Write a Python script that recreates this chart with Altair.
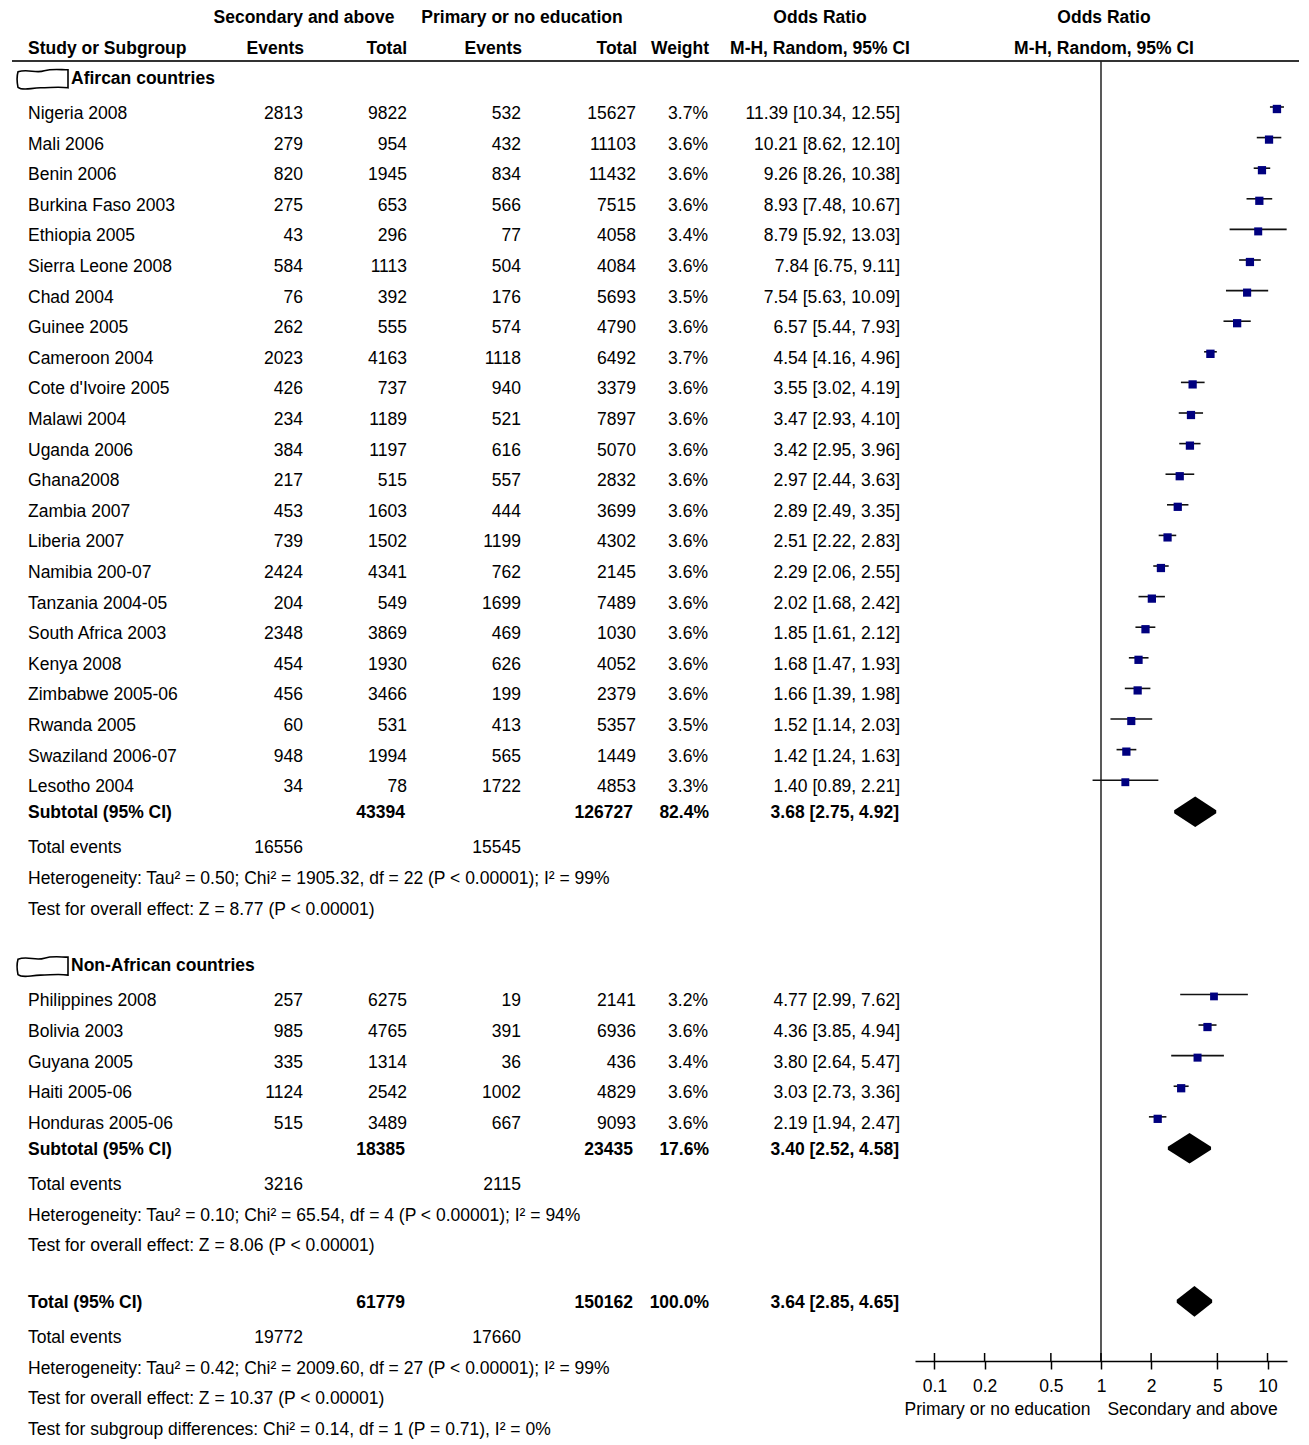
import altair as alt
import pandas as pd

# ---------------- data ----------------
af_names = ["Nigeria 2008", "Mali 2006", "Benin 2006", "Burkina Faso 2003", "Ethiopia 2005",
            "Sierra Leone 2008", "Chad 2004", "Guinee 2005", "Cameroon 2004", "Cote d'Ivoire 2005",
            "Malawi 2004", "Uganda 2006", "Ghana2008", "Zambia 2007", "Liberia 2007",
            "Namibia 200-07", "Tanzania 2004-05", "South Africa 2003", "Kenya 2008",
            "Zimbabwe 2005-06", "Rwanda 2005", "Swaziland 2006-07", "Lesotho 2004"]
af_sec_events = [2813, 279, 820, 275, 43, 584, 76, 262, 2023, 426, 234, 384, 217, 453, 739, 2424,
                 204, 2348, 454, 456, 60, 948, 34]
af_sec_total = [9822, 954, 1945, 653, 296, 1113, 392, 555, 4163, 737, 1189, 1197, 515, 1603, 1502,
                4341, 549, 3869, 1930, 3466, 531, 1994, 78]
af_pri_events = [532, 432, 834, 566, 77, 504, 176, 574, 1118, 940, 521, 616, 557, 444, 1199, 762,
                 1699, 469, 626, 199, 413, 565, 1722]
af_pri_total = [15627, 11103, 11432, 7515, 4058, 4084, 5693, 4790, 6492, 3379, 7897, 5070, 2832,
                3699, 4302, 2145, 7489, 1030, 4052, 2379, 5357, 1449, 4853]
af_weight = [3.7, 3.6, 3.6, 3.6, 3.4, 3.6, 3.5, 3.6, 3.7, 3.6, 3.6, 3.6, 3.6, 3.6, 3.6, 3.6, 3.6,
             3.6, 3.6, 3.6, 3.5, 3.6, 3.3]
af_or = [11.39, 10.21, 9.26, 8.93, 8.79, 7.84, 7.54, 6.57, 4.54, 3.55, 3.47, 3.42, 2.97, 2.89,
         2.51, 2.29, 2.02, 1.85, 1.68, 1.66, 1.52, 1.42, 1.40]
af_lo = [10.34, 8.62, 8.26, 7.48, 5.92, 6.75, 5.63, 5.44, 4.16, 3.02, 2.93, 2.95, 2.44, 2.49,
         2.22, 2.06, 1.68, 1.61, 1.47, 1.39, 1.14, 1.24, 0.89]
af_hi = [12.55, 12.10, 10.38, 10.67, 13.03, 9.11, 10.09, 7.93, 4.96, 4.19, 4.10, 3.96, 3.63, 3.35,
         2.83, 2.55, 2.42, 2.12, 1.93, 1.98, 2.03, 1.63, 2.21]

na_names = ["Philippines 2008", "Bolivia 2003", "Guyana 2005", "Haiti 2005-06", "Honduras 2005-06"]
na_sec_events = [257, 985, 335, 1124, 515]
na_sec_total = [6275, 4765, 1314, 2542, 3489]
na_pri_events = [19, 391, 36, 1002, 667]
na_pri_total = [2141, 6936, 436, 4829, 9093]
na_weight = [3.2, 3.6, 3.4, 3.6, 3.6]
na_or = [4.77, 4.36, 3.80, 3.03, 2.19]
na_lo = [2.99, 3.85, 2.64, 2.73, 1.94]
na_hi = [7.62, 4.94, 5.47, 3.36, 2.47]

group_labels = ["Afircan countries", "Non-African countries"]
sum_labels = ["Subtotal (95% CI)", "Subtotal (95% CI)", "Total (95% CI)"]
sum_sec_total = [43394, 18385, 61779]
sum_pri_total = [126727, 23435, 150162]
sum_weight = ["82.4%", "17.6%", "100.0%"]
sum_or = [3.68, 3.40, 3.64]
sum_lo = [2.75, 2.52, 2.85]
sum_hi = [4.92, 4.58, 4.65]
ev_sec = [16556, 3216, 19772]
ev_pri = [15545, 2115, 17660]
notes = [
    "Heterogeneity: Tau\u00b2 = 0.50; Chi\u00b2 = 1905.32, df = 22 (P < 0.00001); I\u00b2 = 99%",
    "Test for overall effect: Z = 8.77 (P < 0.00001)",
    "Heterogeneity: Tau\u00b2 = 0.10; Chi\u00b2 = 65.54, df = 4 (P < 0.00001); I\u00b2 = 94%",
    "Test for overall effect: Z = 8.06 (P < 0.00001)",
    "Heterogeneity: Tau\u00b2 = 0.42; Chi\u00b2 = 2009.60, df = 27 (P < 0.00001); I\u00b2 = 99%",
    "Test for overall effect: Z = 10.37 (P < 0.00001)",
    "Test for subgroup differences: Chi\u00b2 = 0.14, df = 1 (P = 0.71), I\u00b2 = 0%",
]
tick_values = [0.1, 0.2, 0.5, 1, 2, 5, 10]
axis_titles = ["Primary or no education", "Secondary and above"]
axis_title_at = [0.239, 3.545]

# ---------------- layout (row slots) ----------------
FONT = "Liberation Sans"
FS = 17.5
ROW_PX = 30.6
LEFT_W, RIGHT_W = 907, 372
TOP, LEFT_BOTTOM, AXIS_ROW = -3.431, 43.27, 40.75
HEAD1, HEAD2, HLINE = -3.14, -2.12, -1.73
group_rows = [-1.15, 27.85]
af_rows = list(range(0, 23))
na_rows = list(range(29, 34))
sum_rows = [22.85, 33.85, 38.85]
ev_rows = [24, 35, 40]
note_rows = [25, 26, 36, 37, 41, 42, 43]

yl = alt.Scale(domain=[TOP, LEFT_BOTTOM], reverse=True, nice=False, zero=False)
yr = alt.Scale(domain=[TOP, AXIS_ROW], reverse=True, nice=False, zero=False)


def fmt_ci(o, l, h):
    return f"{o:.2f} [{l:.2f}, {h:.2f}]"


studies = pd.DataFrame({
    "row": af_rows + na_rows,
    "name": af_names + na_names,
    "se": [str(v) for v in af_sec_events + na_sec_events],
    "st": [str(v) for v in af_sec_total + na_sec_total],
    "pe": [str(v) for v in af_pri_events + na_pri_events],
    "pt": [str(v) for v in af_pri_total + na_pri_total],
    "w": [f"{v:.1f}%" for v in af_weight + na_weight],
    "wv": af_weight + na_weight,
    "ci": [fmt_ci(o, l, h) for o, l, h in zip(af_or + na_or, af_lo + na_lo, af_hi + na_hi)],
    "or": af_or + na_or,
    "lo": af_lo + na_lo,
    "hi": af_hi + na_hi,
})
summ = pd.DataFrame({
    "row": sum_rows, "name": sum_labels,
    "st": [str(v) for v in sum_sec_total], "pt": [str(v) for v in sum_pri_total],
    "w": sum_weight, "ci": [fmt_ci(o, l, h) for o, l, h in zip(sum_or, sum_lo, sum_hi)],
})
events = pd.DataFrame({"row": ev_rows, "name": ["Total events"] * 3,
                       "se": [str(v) for v in ev_sec], "pe": [str(v) for v in ev_pri]})
notes_df = pd.DataFrame({"row": note_rows, "name": notes})
groups = pd.DataFrame({"row": group_rows, "name": group_labels})
head1 = pd.DataFrame({"row": [HEAD1] * 3,
                      "name": ["Secondary and above", "Primary or no education", "Odds Ratio"],
                      "x": [296, 514, 812]})
head2 = pd.DataFrame({"row": [HEAD2] * 5,
                      "name": ["Events", "Total", "Events", "Total", "Weight"],
                      "x": [296, 399, 514, 629, 701]})


def col(df, field, x, align="right", bold=False, scale=yl):
    return alt.Chart(df).mark_text(
        align=align, baseline="middle", font=FONT, fontSize=FS,
        fontWeight="bold" if bold else "normal", color="black"
    ).encode(x=alt.value(x), y=alt.Y("row:Q", scale=scale, axis=None), text=f"{field}:N")


def col_x(df, bold=True, align="center"):
    return alt.Chart(df).mark_text(
        align=align, baseline="middle", font=FONT, fontSize=FS,
        fontWeight="bold" if bold else "normal", color="black"
    ).encode(x=alt.X("x:Q", scale=alt.Scale(domain=[0, LEFT_W], range=[0, LEFT_W]), axis=None),
             y=alt.Y("row:Q", scale=yl, axis=None), text="name:N")


flag_path = ("M-1,-0.28 C-0.6,-0.42 -0.3,-0.2 0.05,-0.32 C0.4,-0.42 0.7,-0.36 1,-0.36 "
             "L1,0.36 C0.6,0.3 0.3,0.36 -0.1,0.36 C-0.5,0.36 -0.8,0.5 -1,0.34 "
             "C-1.05,0.1 -1.05,-0.1 -1,-0.28 Z")

hrule_df = pd.DataFrame({"row": [HLINE]})

left_layers = [
    col_x(head1, bold=True, align="center"),
    col_x(head2, bold=True, align="right"),
    col(pd.DataFrame({"row": [HEAD2], "t": ["Study or Subgroup"]}), "t", 20, "left", True),
    col(pd.DataFrame({"row": [HEAD2], "t": ["M-H, Random, 95% CI"]}), "t", 812, "center", True),
    alt.Chart(hrule_df).mark_rule(color="#333333", strokeWidth=2).encode(
        x=alt.value(4), x2=alt.value(LEFT_W), y=alt.Y("row:Q", scale=yl, axis=None)),
    alt.Chart(groups).mark_point(shape=flag_path, size=2500, filled=False, color="black",
                                 strokeWidth=1.6, opacity=1).encode(
        x=alt.value(35), y=alt.Y("row:Q", scale=yl, axis=None)),
    col(groups, "name", 63, "left", True),
    col(studies, "name", 20, "left"),
    col(studies, "se", 295),
    col(studies, "st", 399),
    col(studies, "pe", 513),
    col(studies, "pt", 628),
    col(studies, "w", 700),
    col(studies, "ci", 892),
    col(summ, "name", 20, "left", True),
    col(summ, "st", 397, bold=True),
    col(summ, "pt", 625, bold=True),
    col(summ, "w", 701, bold=True),
    col(summ, "ci", 891, bold=True),
    col(events, "name", 20, "left"),
    col(events, "se", 295),
    col(events, "pe", 513),
    col(notes_df, "name", 20, "left"),
]
left = alt.layer(*left_layers).properties(width=LEFT_W, height=round((LEFT_BOTTOM - TOP) * ROW_PX))

# ---------------- forest panel ----------------
xs = alt.Scale(type="log", domain=[0.0764, 13.09], nice=False)
xaxis = alt.Axis(values=tick_values, format="~g", tickSize=8, tickWidth=1.5, domainWidth=1.5,
                 domainColor="black", tickColor="black", labelColor="black", labelFont=FONT,
                 labelFontSize=FS, labelPadding=8, grid=False, title=None, labelFlush=False)

diamond_rows = []
for i, (o, l, h, r) in enumerate(zip(sum_or, sum_lo, sum_hi, sum_rows)):
    diamond_rows += [
        {"id": i, "x": l, "y": r, "y2": r},
        {"id": i, "x": o, "y": r - 0.45, "y2": r + 0.45},
        {"id": i, "x": h, "y": r, "y2": r},
    ]
diamonds = pd.DataFrame(diamond_rows)
ticks_df = pd.DataFrame({"x": tick_values, "row": [AXIS_ROW] * len(tick_values),
                         "row2": [AXIS_ROW - 8 / ROW_PX] * len(tick_values)})
vline_df = pd.DataFrame({"x": [1], "row": [HLINE], "row2": [AXIS_ROW]})
rhead = pd.DataFrame({"row": [HEAD1, HEAD2], "t": ["Odds Ratio", "M-H, Random, 95% CI"]})
rtitles = pd.DataFrame({"row": [42.35, 42.35], "t": axis_titles, "x": axis_title_at})

right_layers = [
    alt.Chart(rhead).mark_text(align="center", baseline="middle", font=FONT, fontSize=FS,
                               fontWeight="bold", color="black").encode(
        x=alt.value(189), y=alt.Y("row:Q", scale=yr, axis=None), text="t:N"),
    alt.Chart(hrule_df).mark_rule(color="#333333", strokeWidth=2).encode(
        x=alt.value(0), x2=alt.value(RIGHT_W + 12), y=alt.Y("row:Q", scale=yr, axis=None)),
    alt.Chart(vline_df).mark_rule(color="#222222", strokeWidth=1.5).encode(
        x=alt.X("x:Q", scale=xs, axis=xaxis), y=alt.Y("row:Q", scale=yr, axis=None), y2="row2:Q"),
    alt.Chart(ticks_df).mark_rule(color="black", strokeWidth=1.5).encode(
        x=alt.X("x:Q", scale=xs, axis=xaxis), y=alt.Y("row:Q", scale=yr, axis=None), y2="row2:Q"),
    alt.Chart(studies).mark_rule(color="#111111", strokeWidth=1.6, yOffset=-7).encode(
        x=alt.X("lo:Q", scale=xs, axis=xaxis), x2="hi:Q", y=alt.Y("row:Q", scale=yr, axis=None)),
    alt.Chart(studies).mark_square(color="#00007F", opacity=1, yOffset=-5).encode(
        x=alt.X("or:Q", scale=xs, axis=xaxis), y=alt.Y("row:Q", scale=yr, axis=None),
        size=alt.Size("wv:Q", scale=alt.Scale(domain=[0, 3.7], range=[0, 70]), legend=None)),
    alt.Chart(diamonds).mark_area(color="black", opacity=1, yOffset=-3).encode(
        x=alt.X("x:Q", scale=xs, axis=xaxis), y=alt.Y("y:Q", scale=yr, axis=None), y2="y2:Q",
        detail="id:N"),
    alt.Chart(rtitles).mark_text(align="center", baseline="middle", font=FONT, fontSize=FS,
                                 color="black").encode(
        x=alt.X("x:Q", scale=xs, axis=xaxis), y=alt.Y("row:Q", scale=yr, axis=None), text="t:N"),
]
right = alt.layer(*right_layers).properties(width=RIGHT_W, height=round((AXIS_ROW - TOP) * ROW_PX))

chart = alt.hconcat(left, right, spacing=0, bounds="flush").resolve_scale(
    x="independent", y="independent", size="independent"
).properties(padding=0, background="white").configure_view(stroke=None)

chart.save("out.html", embed_options={"renderer": "svg", "actions": False})
